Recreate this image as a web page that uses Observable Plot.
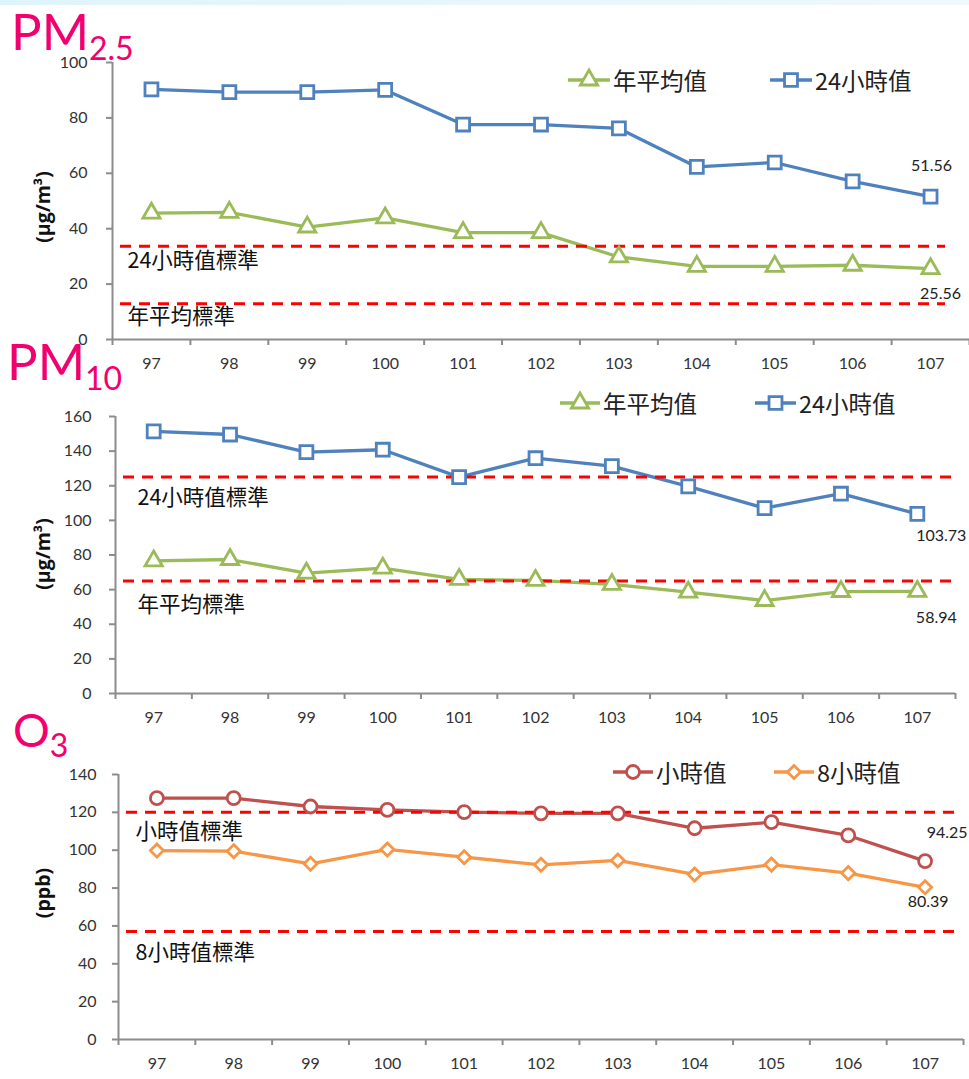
<!DOCTYPE html>
<html><head><meta charset="utf-8">
<script src="https://cdn.jsdelivr.net/npm/d3@7"></script>
<script src="https://cdn.jsdelivr.net/npm/@observablehq/plot@0.6"></script>
<style>
body{margin:0;background:#fff;}
#root{position:relative;width:969px;height:1079px;overflow:hidden;font-family:Lato,"Noto Sans CJK TC",sans-serif;}
.panel{position:absolute;left:0;}
#overlay{position:absolute;left:0;top:0;pointer-events:none;}
</style></head>
<body><div id="root"></div>
<script>
// ---------- data ----------
const years = [97, 98, 99, 100, 101, 102, 103, 104, 105, 106, 107];
const pm25Annual = [45.6, 45.9, 40.6, 43.9, 38.6, 38.6, 29.8, 26.4, 26.4, 26.8, 25.56];
const pm25Daily  = [90.3, 89.3, 89.3, 90.1, 77.6, 77.6, 76.2, 62.3, 63.9, 57.1, 51.56];
const pm25StdValues = [33.7, 12.9];
const pm25StdLabels = ["24小時值標準", "年平均標準"];
const pm10Annual = [76.6, 77.4, 69.5, 72.4, 65.9, 65.3, 63.0, 58.5, 53.7, 58.9, 58.94];
const pm10Daily  = [151.4, 149.6, 139.4, 140.8, 125.0, 135.9, 131.3, 119.6, 107.1, 115.4, 103.73];
const pm10StdValues = [125, 65];
const pm10StdLabels = ["24小時值標準", "年平均標準"];
const o3Hourly = [127.5, 127.5, 123.1, 121.3, 120.1, 119.5, 119.5, 111.6, 114.8, 107.8, 94.25];
const o3Eight  = [99.8, 99.5, 92.8, 100.4, 96.3, 92.3, 94.6, 87.2, 92.4, 87.9, 80.39];
const o3StdValues = [120, 57];
const o3StdLabels = ["小時值標準", "8小時值標準"];
const seriesNamesPM = ["年平均值", "24小時值"];
const seriesNamesO3 = ["小時值", "8小時值"];

const GREEN = "#9bbb59", BLUE = "#4f81bd", RED = "#c0504d", ORANGE = "#f79646";
const root = document.getElementById("root");

function rows(vals) { return years.map((y, i) => ({year: y, value: vals[i]})); }

function panel(cfg) {
  const bounds = d3.range(96.5, 107.6, 1);
  const marks = [
    Plot.ruleY([0], {stroke: "#8c8c8c", strokeWidth: 2}),
    Plot.ruleX([96.5], {stroke: "#8c8c8c", strokeWidth: 2}),
    Plot.axisX({ticks: bounds, tickSize: 6, stroke: "#8c8c8c", strokeWidth: 2, tickFormat: () => "", label: null}),
    Plot.axisX({ticks: years, tickSize: 0, tickPadding: 18, tickFormat: d => String(d), fontSize: 16, fill: "#333", label: null}),
    Plot.axisY({ticks: d3.range(0, cfg.yMax + 1, 20), tickSize: 6, tickPadding: cfg.yPad, stroke: "#8c8c8c", strokeWidth: 2, tickFormat: d => String(d), fontSize: 16, fill: "#333", label: null})
  ];
  for (const s of cfg.series) marks.push(Plot.line(rows(s.values), {x: "year", y: "value", stroke: s.color, strokeWidth: 3.3}));
  marks.push(Plot.ruleY(cfg.stdValues, {stroke: "#ff0000", strokeWidth: 3, strokeDasharray: "11,8", insetLeft: 8, insetRight: cfg.ruleInsetRight}));
  cfg.stdValues.forEach((v, i) => {
    marks.push(Plot.text([{v, label: cfg.stdLabels[i]}], {
      y: "v", frameAnchor: "left", text: "label", textAnchor: "start", dx: cfg.stdDx, dy: cfg.stdDy[i], fontSize: 21.5,
      fontFamily: "Noto Sans CJK TC", fill: "#111"
    }));
  });
  for (const s of cfg.series) marks.push(Plot.dot(rows(s.values), {x: "year", y: "value", symbol: s.symbol, r: s.r, stroke: s.color, strokeWidth: 2.8, fill: "white"}));
  for (const s of cfg.series) {
    const last = rows(s.values).slice(-1);
    marks.push(Plot.text(last, {x: "year", y: "value", text: d => d.value.toFixed(2), dx: s.ldx, dy: s.ldy, fontSize: 16, fill: "#222", fontFamily: "Lato"}));
  }
  const p = Plot.plot({
    width: 969, height: cfg.height,
    marginLeft: cfg.mL, marginRight: cfg.mR, marginTop: cfg.mT, marginBottom: cfg.mB,
    x: {domain: [96.5, 107.5], axis: null},
    y: {domain: [0, cfg.yMax], axis: null},
    style: {fontFamily: "Lato, 'Noto Sans CJK TC', sans-serif", background: "transparent", overflow: "visible"},
    marks
  });
  const wrap = document.createElement("div");
  wrap.className = "panel";
  wrap.style.top = cfg.top + "px";
  wrap.appendChild(p);
  root.appendChild(wrap);
}

panel({top: 0, height: 375, mL: 112, mR: 0, mT: 62, mB: 36, yMax: 100, yPad: 19, ruleInsetRight: 24,
  stdValues: pm25StdValues, stdLabels: pm25StdLabels, stdDx: 15, stdDy: [15, 13],
  series: [
    {values: pm25Annual, color: GREEN, symbol: "triangle", r: 6.4, ldx: 10, ldy: 25},
    {values: pm25Daily, color: BLUE, symbol: "square", r: 7.3, ldx: 1, ldy: -31}
  ]});
panel({top: 375, height: 355, mL: 115, mR: 14, mT: 41, mB: 37, yMax: 160, yPad: 18, ruleInsetRight: 0,
  stdValues: pm10StdValues, stdLabels: pm10StdLabels, stdDx: 22, stdDy: [21, 24],
  series: [
    {values: pm10Annual, color: GREEN, symbol: "triangle", r: 6.4, ldx: 19, ldy: 26},
    {values: pm10Daily, color: BLUE, symbol: "square", r: 7.3, ldx: 24, ldy: 22}
  ]});
panel({top: 730, height: 349, mL: 118, mR: 6, mT: 44, mB: 40, yMax: 140, yPad: 16, ruleInsetRight: 6,
  stdValues: o3StdValues, stdLabels: o3StdLabels, stdDx: 17, stdDy: [20, 22],
  series: [
    {values: o3Hourly, color: RED, symbol: "circle", r: 6.5, ldx: 22, ldy: -28},
    {values: o3Eight, color: ORANGE, symbol: "diamond2", r: 5.9, ldx: 3, ldy: 15}
  ]});

// ---------- overlay: titles, legends, axis titles ----------
const svg = d3.select(root).append("svg").attr("id", "overlay").attr("width", 969).attr("height", 1079);
const grad = svg.append("defs").append("linearGradient").attr("id", "topg").attr("x1", 0).attr("x2", 1);
grad.append("stop").attr("offset", 0).attr("stop-color", "#dff4fa");
grad.append("stop").attr("offset", 1).attr("stop-color", "#eef9fc");
svg.append("rect").attr("x", 0).attr("y", 0).attr("width", 969).attr("height", 5).attr("fill", "url(#topg)");

const PINK = "#f2006f";
function title(x, y, main, sub, mainSize, subSize, subDy) {
  const t = svg.append("text").attr("x", x).attr("y", y).attr("fill", PINK).attr("font-family", "Lato, sans-serif");
  t.append("tspan").attr("font-size", mainSize).text(main);
  t.append("tspan").attr("font-size", subSize).attr("dy", subDy).text(sub);
}
title(11, 50, "PM", "2.5", 51, 32, 10);
title(7, 380, "PM", "10", 51, 32, 10);
title(13, 747, "O", "3", 46, 32, 10);

function axisTitle(x, y, txt) {
  svg.append("text").attr("transform", `translate(${x},${y}) rotate(-90)`).attr("text-anchor", "middle")
    .attr("dominant-baseline", "central").attr("font-size", 19.5).attr("font-weight", "bold")
    .attr("font-family", "'Open Sans', 'Noto Sans CJK TC', sans-serif").attr("fill", "#111").text(txt);
}
axisTitle(42, 207, "(μg/m³)");
axisTitle(42, 554, "(μg/m³)");
axisTitle(42, 893, "(ppb)");

function marker(g, sym, cx, cy, color) {
  const sizes = {triangle: 6.4, square: 7.3, circle: 6.5, diamond2: 5.9};
  const map = {triangle: d3.symbolTriangle, square: d3.symbolSquare, circle: d3.symbolCircle, diamond2: d3.symbolDiamond2};
  const r = sizes[sym];
  g.append("path").attr("transform", `translate(${cx},${cy})`)
    .attr("d", d3.symbol(map[sym], Math.PI * r * r)())
    .attr("fill", "white").attr("stroke", color).attr("stroke-width", 2.8);
}
function legendItem(x0, x1, y, color, sym, label) {
  const g = svg.append("g");
  g.append("line").attr("x1", x0).attr("x2", x1).attr("y1", y).attr("y2", y).attr("stroke", color).attr("stroke-width", 3.3);
  marker(g, sym, (x0 + x1) / 2, y, color);
  g.append("text").attr("x", x1 + 3).attr("y", y).attr("dominant-baseline", "central").attr("font-size", 23.5)
    .attr("font-family", "'Noto Sans CJK TC', sans-serif").attr("fill", "#222").text(label);
}
legendItem(568, 610, 80, GREEN, "triangle", seriesNamesPM[0]);
legendItem(770, 812, 80, BLUE, "square", seriesNamesPM[1]);
legendItem(560, 600, 403, GREEN, "triangle", seriesNamesPM[0]);
legendItem(755, 796, 403, BLUE, "square", seriesNamesPM[1]);
legendItem(613, 653, 772, RED, "circle", seriesNamesO3[0]);
legendItem(774, 814, 772, ORANGE, "diamond2", seriesNamesO3[1]);
</script>
</body></html>
